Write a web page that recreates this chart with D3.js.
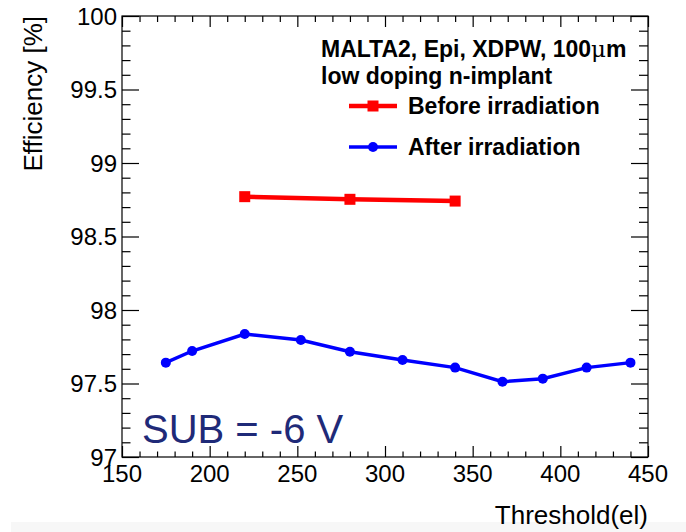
<!DOCTYPE html>
<html>
<head>
<meta charset="utf-8">
<script src="https://cdn.jsdelivr.net/npm/d3@7"></script>
<style>
  html, body { margin: 0; padding: 0; background: #fff; }
  svg { display: block; }
  text { font-family: "Liberation Sans", Arial, Helvetica, sans-serif; }
</style>
</head>
<body>
<svg id="chart" width="686" height="532"></svg>
<script>
// Efficiency vs. threshold, before and after irradiation
const thresholdBefore = [220, 280, 340];
const efficiencyBefore = [98.771, 98.753, 98.741];

const thresholdAfter = [175, 190, 220, 252, 280, 310, 340, 367, 390, 415, 440];
const efficiencyAfter = [97.642, 97.721, 97.837, 97.796, 97.716, 97.660, 97.608, 97.512, 97.533, 97.608, 97.642];

const xTicks = [150, 200, 250, 300, 350, 400, 450];
const yTicks = [97, 97.5, 98, 98.5, 99, 99.5, 100];

const svg = d3.select("#chart");
const W = 686, H = 532;
const plot = { left: 122, right: 648, top: 16, bottom: 457 };

// light strip along the bottom edge
svg.append("rect")
  .attr("x", 11).attr("y", 522).attr("width", W - 11).attr("height", 10)
  .attr("fill", "#f7f7f7");

const x = d3.scaleLinear().domain([150, 450]).range([plot.left, plot.right]);
const y = d3.scaleLinear().domain([97, 100]).range([plot.bottom, plot.top]);

const xMinor = d3.range(150, 451, 10);
const yMinor = d3.range(0, 31).map(i => 97 + i * 0.1);

const g = svg.append("g");

// frame
g.append("rect")
  .attr("x", plot.left).attr("y", plot.top)
  .attr("width", plot.right - plot.left).attr("height", plot.bottom - plot.top)
  .attr("fill", "none").attr("stroke", "#000").attr("stroke-width", 1.2);

const isMajorX = v => Math.abs(v % 50) < 1e-6;
const isMajorY = v => Math.abs(Math.round(v * 2) - v * 2) < 1e-6;

// bottom & top axis ticks
const xAxisBottom = d3.axisBottom(x).tickValues(xMinor).tickFormat("").tickSizeOuter(0);
const gxb = g.append("g").attr("transform", `translate(0,${plot.bottom})`).call(xAxisBottom);
gxb.select(".domain").remove();
gxb.selectAll(".tick line")
  .attr("y2", d => isMajorX(d) ? -11 : -5.5)
  .attr("stroke-width", 1.2);

const xAxisTop = d3.axisTop(x).tickValues(xMinor).tickFormat("").tickSizeOuter(0);
const gxt = g.append("g").attr("transform", `translate(0,${plot.top})`).call(xAxisTop);
gxt.select(".domain").remove();
gxt.selectAll(".tick line")
  .attr("y2", d => isMajorX(d) ? 11 : 6)
  .attr("stroke-width", 1.2);

// left & right axis ticks
const yAxisLeft = d3.axisLeft(y).tickValues(yMinor).tickFormat("").tickSizeOuter(0);
const gyl = g.append("g").attr("transform", `translate(${plot.left},0)`).call(yAxisLeft);
gyl.select(".domain").remove();
gyl.selectAll(".tick line")
  .attr("x2", d => isMajorY(d) ? 17 : 8.5)
  .attr("stroke-width", 1.2);

const yAxisRight = d3.axisRight(y).tickValues(yMinor).tickFormat("").tickSizeOuter(0);
const gyr = g.append("g").attr("transform", `translate(${plot.right},0)`).call(yAxisRight);
gyr.select(".domain").remove();
gyr.selectAll(".tick line")
  .attr("x2", d => isMajorY(d) ? -17 : -9)
  .attr("stroke-width", 1.2);

// tick labels
g.selectAll(".xlab").data(xTicks).join("text")
  .attr("class", "xlab")
  .attr("x", d => x(d)).attr("y", 482)
  .attr("text-anchor", "middle")
  .attr("font-size", 24)
  .text(d => d);

g.selectAll(".ylab").data(yTicks).join("text")
  .attr("class", "ylab")
  .attr("x", 117).attr("y", d => y(d) + 8.5)
  .attr("text-anchor", "end")
  .attr("font-size", 24)
  .text(d => d);

// axis titles
svg.append("text")
  .attr("x", plot.right).attr("y", 524)
  .attr("text-anchor", "end")
  .attr("font-size", 26)
  .text("Threshold(el)");

svg.append("text")
  .attr("transform", `translate(42,${plot.top}) rotate(-90)`)
  .attr("text-anchor", "end")
  .attr("font-size", 26)
  .text("Efficiency [%]");

// series
const line = d3.line().x(d => x(d[0])).y(d => y(d[1]));
const before = thresholdBefore.map((t, i) => [t, efficiencyBefore[i]]);
const after = thresholdAfter.map((t, i) => [t, efficiencyAfter[i]]);

svg.append("path").datum(before)
  .attr("d", line).attr("fill", "none")
  .attr("stroke", "#ff0000").attr("stroke-width", 4.5);
svg.selectAll(".sq").data(before).join("rect")
  .attr("class", "sq")
  .attr("x", d => x(d[0]) - 5.5).attr("y", d => y(d[1]) - 5.5)
  .attr("width", 11).attr("height", 11)
  .attr("fill", "#ff0000");

svg.append("path").datum(after)
  .attr("d", line).attr("fill", "none")
  .attr("stroke", "#0000ff").attr("stroke-width", 3.5);
svg.selectAll(".dot").data(after).join("circle")
  .attr("class", "dot")
  .attr("cx", d => x(d[0])).attr("cy", d => y(d[1]))
  .attr("r", 5)
  .attr("fill", "#0000ff");

// header & legend
const hdr = svg.append("text")
  .attr("x", 321).attr("y", 57)
  .attr("font-size", 23).attr("font-weight", "bold");
hdr.append("tspan").text("MALTA2, Epi, XDPW, 100");
hdr.append("tspan").attr("font-family", "DejaVu Serif, serif").attr("font-weight", "normal").text("μ");
hdr.append("tspan").text("m");

svg.append("text")
  .attr("x", 321).attr("y", 84)
  .attr("font-size", 23).attr("font-weight", "bold")
  .text("low doping n-implant");

const legend = [
  { label: "Before irradiation", color: "#ff0000", y: 106, shape: "square", width: 4.5 },
  { label: "After irradiation", color: "#0000ff", y: 147, shape: "circle", width: 3.5 }
];
legend.forEach(l => {
  svg.append("line")
    .attr("x1", 349).attr("x2", 397).attr("y1", l.y).attr("y2", l.y)
    .attr("stroke", l.color).attr("stroke-width", l.width);
  if (l.shape === "square") {
    svg.append("rect").attr("x", 373 - 5.5).attr("y", l.y - 5.5)
      .attr("width", 11).attr("height", 11).attr("fill", l.color);
  } else {
    svg.append("circle").attr("cx", 373).attr("cy", l.y).attr("r", 5).attr("fill", l.color);
  }
  svg.append("text")
    .attr("x", 408).attr("y", l.y + 8)
    .attr("font-size", 23).attr("font-weight", "bold")
    .text(l.label);
});

// bias annotation
svg.append("text")
  .attr("x", 142).attr("y", 443)
  .attr("font-family", "'Open Sans', sans-serif")
  .attr("font-size", 40)
  .attr("fill", "#1f2a78")
  .text("SUB = -6 V");
</script>
</body>
</html>
